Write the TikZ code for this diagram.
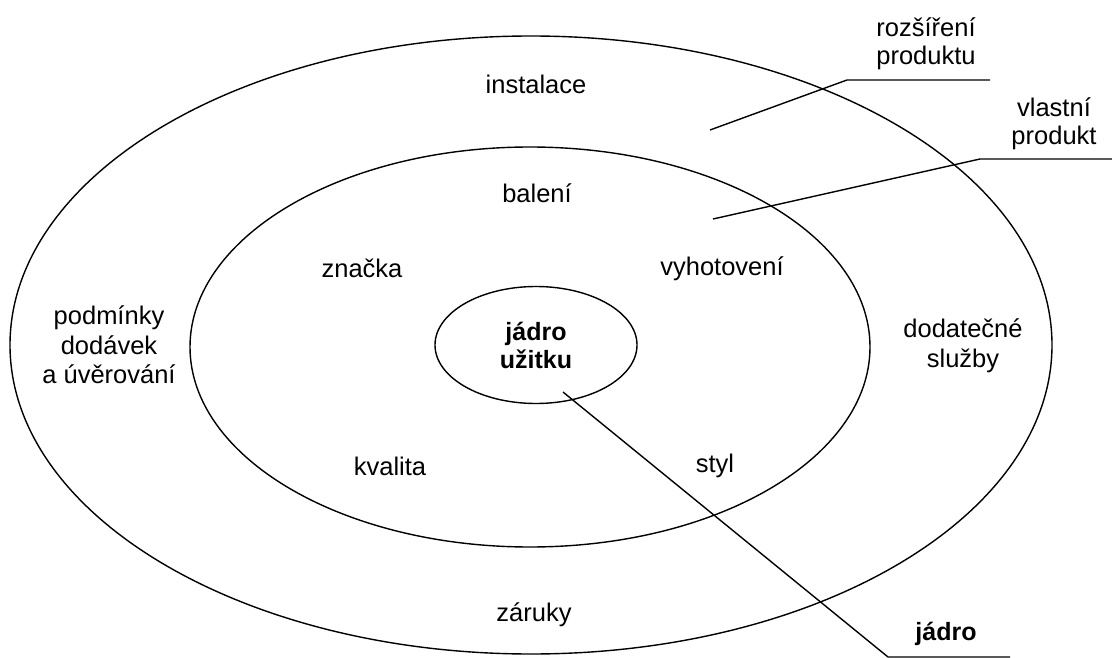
\documentclass[tikz,border=0pt]{standalone}
\usepackage{fontspec}
\setmainfont{Liberation Sans}
\usetikzlibrary{shapes.geometric,positioning}

\tikzset{
  ring/.style={draw,ellipse,line width=1.4pt,inner sep=0pt},
  lbl/.style={font=\fontsize{25.5}{29.5}\selectfont,align=center,inner sep=0pt},
  leader/.style={line width=1.4pt}
}

\begin{document}
\begin{tikzpicture}[x=1pt,y=-1pt]
		\useasboundingbox (0,0) rectangle (1112,658);
		\node[ring,minimum width=1042pt,minimum height=618pt] (outer) at (531,345) {};
		\node[ring,minimum width=680pt,minimum height=400pt] (middle) at (530,347) {};
		\node[ring,lbl,font=\fontsize{25}{28}\selectfont\bfseries,minimum width=202pt,minimum height=117pt] (core) at (536,345) {jádro\\užitku};
		\node[lbl] (instalace) at (536,84) {instalace};
		\node[lbl] (baleni) at (537,193) {balení};
		\node[lbl] (znacka) at (362,268) {značka};
		\node[lbl] (vyhotoveni) at (722,269) {vyhotovení};
		\node[lbl] (podminky) at (109,345) {podmínky\\dodávek\\a úvěrování};
		\node[lbl] (sluzby) at (963,346) {dodatečné\\služby};
		\node[lbl] (kvalita) at (390,466) {kvalita};
		\node[lbl] (styl) at (715,466) {styl};
		\node[lbl] (zaruky) at (534,615) {záruky};
		\node[lbl,font=\fontsize{25.5}{28}\selectfont] (rozsireni) at (926,44) {rozšíření\\produktu};
		\node[lbl,font=\fontsize{25.5}{28}\selectfont] (vlastni) at (1054,124) {vlastní\\produkt};
		\node[lbl,font=\fontsize{25}{28}\selectfont\bfseries] (jadro) at (946,634) {jádro};
		\coordinate (ext tip) at (710,130);
		\coordinate (ext knee) at (847,80);
		\coordinate (ext end) at (990,80);
		\coordinate (own tip) at (713,219);
		\coordinate (own knee) at (980,159);
		\coordinate (own end) at (1112,159);
		\coordinate (core tip) at (563,392);
		\coordinate (core knee) at (888,657);
		\coordinate (core end) at (1010,657);
		\draw[leader] (ext tip) -- (ext knee) -- (ext end);
		\draw[leader] (own tip) -- (own knee) -- (own end);
		\draw[leader] (core tip) -- (core knee) -- (core end);
	\end{tikzpicture}
\end{document}
